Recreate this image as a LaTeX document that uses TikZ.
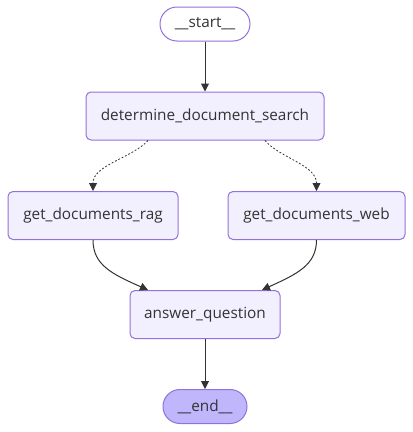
\documentclass[tikz,border=0pt]{standalone}
\usepackage{fontspec}
\setmainfont{Open Sans}
\usepackage{tikz}
\usetikzlibrary{arrows.meta}

\definecolor{nodefill}{HTML}{F2F0FF}
\definecolor{nodeline}{HTML}{9370DB}
\definecolor{endfill}{HTML}{BFB6FC}
\definecolor{ink}{HTML}{333333}

\begin{document}
\begin{tikzpicture}[x=0.75pt, y=-0.75pt,
  every node/.style={font=\fontsize{11.5}{14}\selectfont, text=ink},
  stepnode/.style={draw=nodeline, fill=nodefill, line width=0.75pt,
    rounded corners=3.75pt, minimum height=36pt, inner xsep=0pt},
  termnode/.style={draw=nodeline, line width=0.75pt,
    rounded corners=12.7pt, minimum height=25.5pt, inner xsep=0pt},
  flow/.style={draw=ink, line width=0.75pt, -{Triangle[length=6pt,width=6pt]}},
  condflow/.style={flow, line width=0.6pt, dash pattern=on 1.4pt off 1.4pt}]
  \useasboundingbox (0,0) rectangle (413,432);
  % --- nodes ---
  \node[termnode, fill=white, minimum width=67.5pt] (start) at (205,24) {\_\_start\_\_};
  \node[stepnode, minimum width=178.5pt] (det) at (205,116) {determine\_document\_search};
  \node[stepnode, minimum width=127.5pt] (rag) at (93,215.5) {get\_documents\_rag};
  \node[stepnode, minimum width=132.75pt] (web) at (316.5,215.5) {get\_documents\_web};
  \node[stepnode, minimum width=112.5pt] (ans) at (205,314.5) {answer\_question};
  \node[termnode, fill=endfill, minimum width=63pt] (end) at (205,406.5) {\_\_end\_\_};
  % --- edges ---
  \draw[flow] (start) -- (det);
  \draw[condflow] ([xshift=-42.75pt]det.south) .. controls (132,158) and (93,165) .. (rag);
  \draw[condflow] ([xshift=45pt]det.south) .. controls (280,158) and (316.5,165) .. (web);
  \draw[flow] (rag) .. controls (93,265) and (112,274) .. ([xshift=-42.75pt]ans.north);
  \draw[flow] (web) .. controls (316.5,265) and (297,274) .. ([xshift=42.75pt]ans.north);
  \draw[flow] (ans) -- (end);
\end{tikzpicture}
\end{document}
